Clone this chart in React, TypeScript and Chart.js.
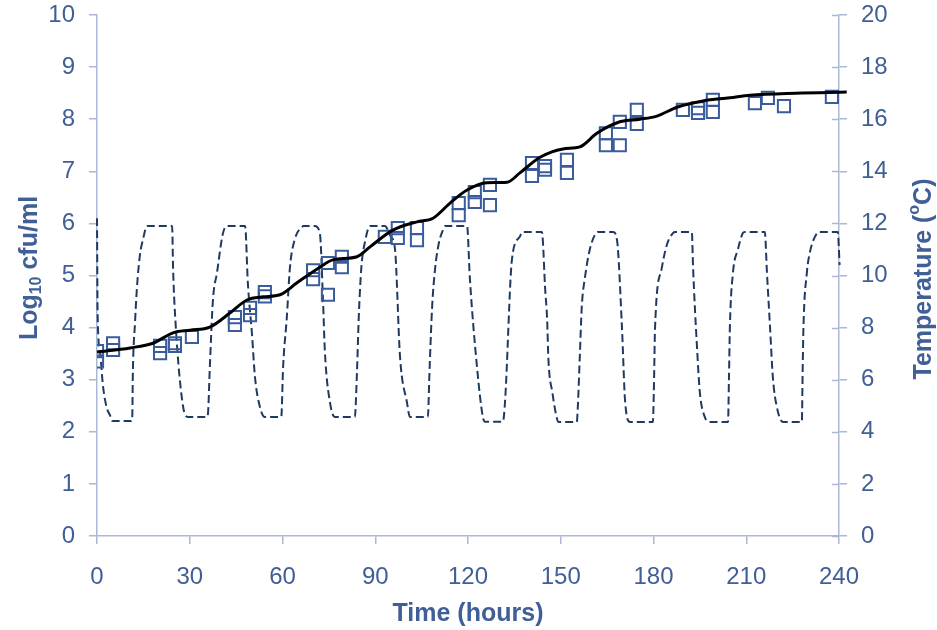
import React, { useEffect, useRef } from "react";
import { Chart, registerables } from "chart.js";

Chart.register(...registerables);

// Observed counts (hours, log10 cfu/ml)
const obsHours = [0, 0, 5.2, 5.2, 20.4, 20.4, 25.2, 25.2, 30.7, 44.6, 44.6, 49.5, 49.5, 54.3, 54.3, 69.9, 69.9, 74.7, 74.7, 79.2, 79.2, 93.1, 97.3, 97.3, 103.5, 103.5, 117, 117, 122.2, 122.2, 127.1, 127.1, 140.7, 140.7, 144.9, 144.9, 152, 152, 164.6, 164.6, 169.1, 169.1, 174.6, 174.6, 189.5, 194.4, 194.4, 199.2, 199.2, 212.8, 217, 222.2, 237.7];
const obsLog = [3.55, 3.35, 3.7, 3.57, 3.65, 3.51, 3.7, 3.65, 3.82, 4.2, 4.05, 4.38, 4.24, 4.68, 4.6, 5.1, 4.93, 5.24, 4.63, 5.36, 5.16, 5.74, 5.91, 5.72, 5.91, 5.68, 6.39, 6.16, 6.6, 6.41, 6.74, 6.35, 7.16, 6.91, 7.1, 7.03, 7.22, 6.97, 7.73, 7.5, 7.95, 7.5, 8.18, 7.91, 8.18, 8.21, 8.12, 8.37, 8.14, 8.31, 8.41, 8.25, 8.43];

// Model prediction
const modelHours = [0, 10.7, 18.1, 24.6, 30.1, 36.5, 43, 48.5, 53.7, 59.2, 64.7, 72.1, 76.3, 84.1, 88.3, 95.7, 103.5, 108.7, 114.2, 119.7, 126.1, 132.6, 136.8, 143.3, 150.7, 156.2, 161.7, 169.1, 175.6, 181.1, 187.6, 196, 204.7, 211.2, 226, 242.5];
const modelLog = [3.53, 3.61, 3.7, 3.9, 3.95, 4.01, 4.28, 4.53, 4.59, 4.63, 4.86, 5.16, 5.3, 5.36, 5.55, 5.87, 6.03, 6.1, 6.39, 6.64, 6.78, 6.79, 6.97, 7.27, 7.43, 7.47, 7.73, 7.95, 8.0, 8.06, 8.23, 8.35, 8.41, 8.46, 8.5, 8.52];

// Temperature profile (hours, °C)
const tempHours = [0, 0.2, 1.0, 1.9, 3.2, 4.2, 5.0, 11.1, 11.4, 11.6, 12.3, 12.9, 13.9, 14.9, 16.2, 24.3, 24.6, 25.5, 27.8, 29.4, 35.6, 35.9, 36.5, 37.5, 38.8, 40.7, 42.0, 47.9, 48.8, 50.1, 51.1, 52.7, 54.3, 59.6, 60.2, 61.4, 62.4, 64.0, 66.3, 66.8, 70.5, 72.1, 73.1, 73.7, 75.4, 77.0, 83.4, 84.0, 84.7, 85.5, 86.7, 88.3, 93.1, 95.0, 96.4, 98.0, 100.3, 101.2, 107.0, 107.6, 108.4, 109.3, 110.5, 111.9, 112.5, 119.7, 120.6, 122.9, 124.8, 125.5, 131.3, 132.0, 134.2, 136.8, 137.5, 143.9, 144.2, 144.9, 145.6, 146.0, 147.3, 148.9, 149.3, 155.2, 155.5, 156.2, 156.8, 157.8, 159.4, 161.0, 161.9, 167.0, 168.2, 169.8, 170.8, 172.4, 179.8, 180.1, 180.5, 182.7, 184.3, 186.3, 187.0, 192.4, 192.8, 194.0, 195.0, 196.6, 198.2, 204.1, 204.4, 204.7, 205.7, 207.3, 208.9, 209.5, 216.0, 216.7, 217.7, 218.6, 219.9, 221.9, 228.0, 228.2, 228.5, 229.6, 230.6, 232.9, 233.5, 239.6, 240.2];
const tempValues = [12.2, 8.5, 7.06, 5.8, 4.9, 4.64, 4.41, 4.41, 4.55, 6.3, 8.2, 9.5, 10.8, 11.4, 11.9, 11.9, 10.3, 8.0, 5.0, 4.57, 4.57, 4.7, 6.5, 9.06, 10.1, 11.6, 11.9, 11.9, 9.7, 7.8, 6.1, 4.95, 4.57, 4.57, 6.5, 8.4, 10.3, 11.4, 11.86, 11.9, 11.9, 11.6, 9.06, 7.1, 5.1, 4.57, 4.57, 6.0, 8.5, 10.3, 11.3, 11.9, 11.9, 11.5, 11.0, 6.9, 5.1, 4.57, 4.57, 6.5, 8.8, 10.2, 11.2, 11.75, 11.9, 11.9, 9.9, 6.5, 4.57, 4.39, 4.39, 5.2, 10.6, 11.5, 11.67, 11.67, 11.36, 9.6, 8.3, 6.8, 5.5, 4.45, 4.38, 4.38, 4.9, 7.0, 8.8, 9.9, 11.0, 11.55, 11.67, 11.67, 11.36, 8.0, 5.2, 4.38, 4.38, 5.5, 8.0, 10.3, 11.17, 11.63, 11.67, 11.67, 10.3, 7.4, 5.5, 4.57, 4.38, 4.38, 6.0, 8.0, 10.1, 11.0, 11.63, 11.67, 11.67, 10.1, 8.0, 6.1, 4.95, 4.38, 4.38, 6.0, 8.0, 10.1, 10.9, 11.63, 11.67, 11.67, 10.4];

const xTicks = [0, 30, 60, 90, 120, 150, 180, 210, 240];

const TXT = "#3F5F96";
const AX = "#A9B8D6";
const FONT = "'Liberation Sans', Arial, sans-serif";

const titlesPlugin = {
  id: "titlesPlugin",
  afterDraw(chart: any) {
    const ctx = chart.ctx;
    const y2 = chart.scales.y2;
    const area = chart.chartArea;
    ctx.save();
    // inner ticks on right axis
    ctx.strokeStyle = AX;
    ctx.lineWidth = 1.5;
    y2.ticks.forEach((t: any) => {
      const py = Math.round(y2.getPixelForValue(t.value)) + 0.5;
      ctx.beginPath();
      ctx.moveTo(area.right - 7, py);
      ctx.lineTo(area.right, py);
      ctx.stroke();
    });
    ctx.fillStyle = TXT;
    ctx.textBaseline = "alphabetic";
    const big = "bold 25px " + FONT;
    const small = "bold 16px " + FONT;

    const drawRun = (parts: { t: string; f: string; dy: number }[], cx: number, cy: number) => {
      let total = 0;
      parts.forEach((p) => { ctx.font = p.f; total += ctx.measureText(p.t).width; });
      ctx.save();
      ctx.translate(cx, cy);
      ctx.rotate(-Math.PI / 2);
      let x = -total / 2;
      parts.forEach((p) => {
        ctx.font = p.f;
        ctx.textAlign = "left";
        ctx.fillText(p.t, x, p.dy);
        x += ctx.measureText(p.t).width;
      });
      ctx.restore();
    };
    drawRun([
      { t: "Log", f: big, dy: 9 },
      { t: "10", f: small, dy: 13 },
      { t: " cfu/ml", f: big, dy: 9 },
    ], 28, 268);
    drawRun([
      { t: "Temperature (", f: big, dy: 9 },
      { t: "o", f: small, dy: -3 },
      { t: "C)", f: big, dy: 9 },
    ], 922, 279);
    ctx.font = big;
    ctx.textAlign = "center";
    ctx.fillText("Time (hours)", 468, 621);
    ctx.restore();
  },
};

export default function App() {
  const ref = useRef<HTMLCanvasElement>(null);
  useEffect(() => {
    if (!ref.current) return;
    const obs = obsHours.map((h, i) => ({ x: h, y: obsLog[i] }));
    const model = modelHours.map((h, i) => ({ x: h, y: modelLog[i] }));
    const temp = tempHours.map((h, i) => ({ x: h, y: tempValues[i] }));
    const fitVertical = (w: number) => (s: any) => {
      s.width = w;
      s.paddingTop = 15;
      s.paddingBottom = 0;
    };
    const chart = new Chart(ref.current, {
      type: "line",
      data: {
        datasets: [
          {
            label: "Model",
            data: model,
            yAxisID: "y",
            borderColor: "#000000",
            borderWidth: 3,
            pointRadius: 0,
            cubicInterpolationMode: "monotone",
            fill: false,
            clip: false as any,
            order: 0,
          },
          {
            label: "Observed",
            data: obs,
            yAxisID: "y",
            showLine: false,
            pointStyle: "rect",
            pointRadius: 8.6,
            pointBorderWidth: 2,
            pointBorderColor: "#3B5C9C",
            pointBackgroundColor: "rgba(0,0,0,0)",
            borderColor: "#3B5C9C",
            order: 1,
          },
          {
            label: "Temperature",
            data: temp,
            yAxisID: "y2",
            borderColor: "#1F3A60",
            borderWidth: 2,
            borderDash: [8, 4],
            pointRadius: 0,
            cubicInterpolationMode: "monotone",
            fill: false,
            clip: false as any,
            order: 2,
          },
        ],
      },
      options: {
        animation: false,
        responsive: false,
        layout: { padding: { top: 0, left: 0, right: 0, bottom: 0 } },
        plugins: { legend: { display: false }, tooltip: { enabled: false } },
        scales: {
          x: {
            type: "linear",
            min: 0,
            max: 240,
            afterBuildTicks: (s: any) => { s.ticks = xTicks.map((v) => ({ value: v })); },
            afterFit: (s: any) => { s.height = 94; s.paddingLeft = 0; s.paddingRight = 0; },
            border: { display: true, color: AX, width: 1.5 },
            grid: { drawOnChartArea: false, drawTicks: true, tickLength: 8, color: AX, lineWidth: 1.5 },
            ticks: { color: TXT, font: { size: 24, family: FONT }, padding: 19, maxRotation: 0 },
          },
          y: {
            type: "linear",
            position: "left",
            min: 0,
            max: 10,
            ticks: { stepSize: 1, color: TXT, font: { size: 24, family: FONT }, padding: 14 },
            afterFit: fitVertical(97),
            border: { display: true, color: AX, width: 1.5 },
            grid: { drawOnChartArea: false, drawTicks: true, tickLength: 8, color: AX, lineWidth: 1.5 },
          },
          y2: {
            type: "linear",
            position: "right",
            min: 0,
            max: 20,
            ticks: { stepSize: 2, color: TXT, font: { size: 24, family: FONT }, padding: 14 },
            afterFit: fitVertical(98),
            border: { display: true, color: AX, width: 1.5 },
            grid: { drawOnChartArea: false, drawTicks: true, tickLength: 8, color: AX, lineWidth: 1.5 },
          },
        },
      },
      plugins: [titlesPlugin],
    });
    return () => chart.destroy();
  }, []);
  return (
    <div style={{ position: "fixed", left: 0, top: 0, width: 937, height: 630, background: "#fff" }}>
      <canvas ref={ref} width={937} height={630} style={{ display: "block" }} />
    </div>
  );
}
